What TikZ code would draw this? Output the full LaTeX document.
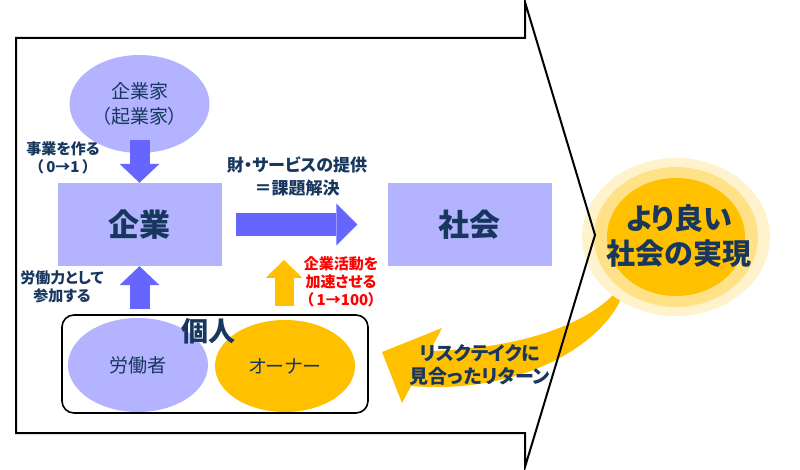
\documentclass[tikz,border=0pt]{standalone}
\usepackage{fontspec}
\setmainfont{Noto Sans CJK JP}[RawFeature=+palt]
\usepackage{tikz}
\usetikzlibrary{shapes.geometric, arrows.meta}

\definecolor{lblue}{RGB}{179,179,255}
\definecolor{dblue}{RGB}{102,102,255}
\definecolor{gold}{RGB}{255,192,0}
\definecolor{navy}{RGB}{23,55,94}
\definecolor{ringout}{RGB}{255,243,206}
\definecolor{ringmid}{RGB}{255,226,135}
\newcommand{\fsz}[2]{\fontsize{#1}{#2}\selectfont}

\begin{document}
\begin{tikzpicture}[x=1pt, y=-1pt,
    box/.style={rectangle, fill=lblue, inner sep=0pt, minimum width=164pt, minimum height=83pt, text=navy, font=\bfseries\fsz{31}{36}},
    oval/.style={ellipse, inner sep=0pt, align=center, text=navy, font=\fsz{19}{25}},
    note/.style={align=center, text=navy, font=\bfseries\fsz{15}{18}},
    bluearr/.style={draw=dblue, line width=20pt, -{Triangle[length=19pt, width=40pt, line width=0pt]}},
    yelarr/.style={draw=gold, line width=19pt, -{Triangle[length=18pt, width=37pt, line width=0pt]}}]
    \useasboundingbox (0,0) rectangle (800,470);

    % curved return arrow, under the goal
    \fill[gold] (620,287) .. controls (595,320) and (530,348) .. (430,351) -- (442,328) -- (382,352) -- (402,403) -- (411,386) .. controls (520,395) and (605,345) .. (624,292) -- cycle;
    \node (ret) [note, font=\bfseries\fsz{19}{23}] at (480,365) {リスクテイクに\\見合ったリターン};

    % goal
    \fill[ringout] (676,237) ellipse [x radius=94, y radius=79];
    \fill[ringmid] (676,237) ellipse [x radius=82, y radius=70];
    \fill[gold] (676,237) ellipse [x radius=69, y radius=59];
    \node (goal) [align=center, text=navy, font=\bfseries\fsz{29}{35}] at (679,236) {より良い\\社会の実現};

    \node (ent) [oval, fill=lblue, minimum width=140pt, minimum height=98pt] at (139.5,104) {企業家\\（起業家）};
    \node (corp) [box] at (139.5,224.5) {企業};
    \node (soc) [box] at (469.5,224.5) {社会};
    \node (grp) [draw, line width=1.6pt, rounded corners=12pt, minimum width=306pt, minimum height=98pt] at (215,364) {};
    \node (worker) [oval, fill=lblue, minimum width=140pt, minimum height=94pt] at (138,365) {労働者};
    \node (owner) [oval, fill=gold, minimum width=140pt, minimum height=92pt] at (285,366) {オーナー};
    \node (indiv) [text=navy, font=\bfseries\fsz{27}{30}] at (208,331) {個人};

    \node (make) [note] at (63,158) {事業を作る\\（\hspace{3pt}0→1\hspace{3pt}）};
    \node (labor) [note] at (62,287) {労働力として\\参加する};
    \node (offer) [note, font=\bfseries\fsz{17}{23}] at (297,176) {財・サービスの提供\\＝課題解決};
    \node (accel) [note, text=red] at (341,282) {企業活動を\\加速させる\\（\hspace{3pt}1→100）};

    \draw[bluearr, shorten <=-13pt] (ent.south) -- (corp.north);
    \draw[bluearr, shorten <=5pt] (grp.north -| corp.south) -- (corp.south);
    \draw[bluearr, line width=23pt, -{Triangle[length=21pt, width=42pt, line width=0pt]}, shorten <=14pt, shorten >=30pt] (corp.east) -- (soc.west);
    \coordinate (boost) at (284,260);
    \draw[yelarr, shorten <=14pt] (owner.north -| boost) -- (boost);

    % outline of the big arrow
    \draw[line width=2pt] (525,38) -- (16,38) -- (16,433) -- (525,433) -- (525,467) -- (595,235) -- (525,2) -- cycle;
\end{tikzpicture}
\end{document}
